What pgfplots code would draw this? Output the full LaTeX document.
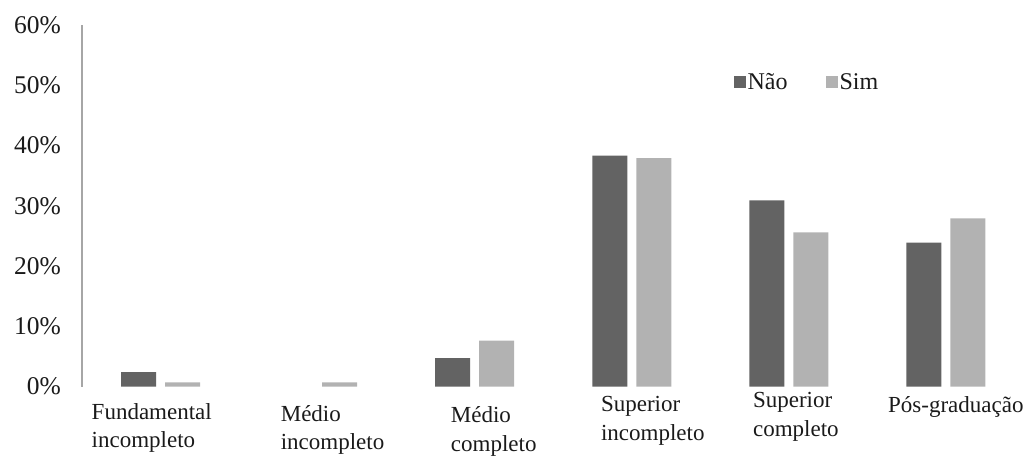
\documentclass[border=0pt]{standalone}
\usepackage{pgfplots}
\pgfplotsset{compat=1.18}
\usepackage{fontspec}
\setmainfont{Liberation Serif}

\definecolor{nao}{HTML}{636363}
\definecolor{sim}{HTML}{B2B2B2}
\definecolor{axisgray}{HTML}{A6A6A6}
\definecolor{txt}{HTML}{1A1A1A}

% category label: horizontal offset, vertical offset, left-aligned lines
\newcommand{\catlabel}[3]{\hspace*{#1}\raisebox{#2}[0pt][0pt]{\begin{tabular}[t]{@{}l@{}}#3\end{tabular}}}

\begin{document}
\begin{tikzpicture}[x=1pt,y=1pt]
\path[use as bounding box] (0,0) rectangle (1035,455);
\begin{axis}[
  at={(82pt,68.5pt)}, anchor=south west,
  scale only axis,
  width=942.5pt, height=361.5pt,
  xmin=-0.5, xmax=5.5,
  ymin=0, ymax=60,
  axis y line=left, axis x line=bottom,
  x axis line style={draw=none},
  y axis line style={axisgray, line width=1.2pt, -},
  major tick length=0pt,
  ytick={0,10,20,30,40,50,60},
  yticklabels={0\%,10\%,20\%,30\%,40\%,50\%,60\%},
  yticklabel style={font=\fontsize{25.5}{28}\selectfont, text=txt, anchor=east, inner sep=0pt, xshift=-21pt},
  xtick={0,1,2,3,4,5},
  xticklabels={
    \catlabel{-69pt}{0pt}{Fundamental\\incompleto},
    \catlabel{-37pt}{-2pt}{Médio\\incompleto},
    \catlabel{-24pt}{-3.5pt}{Médio\\completo},
    \catlabel{-31pt}{7.5pt}{Superior\\incompleto},
    \catlabel{-36pt}{11.5pt}{Superior\\completo},
    \catlabel{-58pt}{7pt}{Pós-graduação}},
  xticklabel style={font=\fontsize{23}{28.5}\selectfont, text=txt, anchor=north west,
                    inner sep=0pt, yshift=-32pt},
  ybar=9pt, bar width=35pt,
  legend columns=2,
  legend style={draw=none, fill=none, at={(0.688,0.842)}, anchor=west,
                font=\fontsize{24}{28}\selectfont, text=txt,
                nodes={inner sep=2pt},
                /tikz/every even column/.append style={column sep=36pt}},
  legend image code/.code={\fill[#1] (0pt,-6pt) rectangle (12pt,6pt);},
]
% "Não" has no respondents in "Médio incompleto"
\addplot[fill=nao, draw=none] coordinates {(0,2.4) (2,4.7) (3,38.3) (4,30.9) (5,23.9)};
\addplot[fill=sim, draw=none] coordinates {(0,0.7) (1,0.7) (2,7.6) (3,37.9) (4,25.6) (5,27.9)};
\legend{Não, Sim}
\end{axis}
\end{tikzpicture}
\end{document}
